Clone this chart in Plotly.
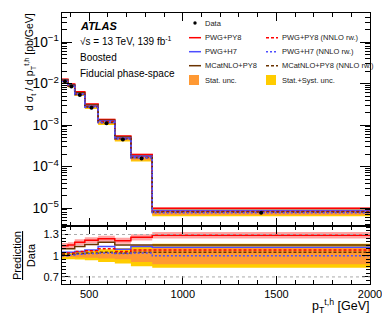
import plotly.graph_objects as go
import numpy as np

# bin edges of p_T^{t,h} [GeV] and measured cross section [pb/GeV]
edges = [355, 387, 423, 477, 548, 637, 723, 837, 2000]
data = [1.12e-2, 8.5e-3, 5.3e-3, 2.62e-3, 1.10e-3, 4.5e-4, 1.56e-4, 7.7e-6]
stat_unc = [0.02, 0.02, 0.025, 0.03, 0.04, 0.05, 0.09, 0.12]
tot_unc = [0.05, 0.05, 0.055, 0.065, 0.09, 0.11, 0.15, 0.17]

# prediction / data
r_pwg_py8 = [1.14, 1.15, 1.19, 1.22, 1.24, 1.21, 1.26, 1.29]
r_pwg_h7 = [1.05, 1.05, 1.06, 1.08, 1.13, 1.09, 1.13, 1.12]
r_mcnlo = [1.10, 1.10, 1.13, 1.16, 1.19, 1.15, 1.15, 1.15]
r_pwg_py8_nnlo = [1.04, 1.04, 1.06, 1.07, 1.10, 1.06, 1.08, 1.08]
r_pwg_h7_nnlo = [1.00, 1.01, 1.02, 1.03, 1.04, 1.03, 1.04, 1.00]
r_mcnlo_nnlo = [1.02, 1.02, 1.03, 1.04, 1.05, 1.04, 1.05, 1.05]
pwg_py8_unc = 0.035

RED, BLUE, BROWN = '#ff0000', '#4d4dff', '#6b3300'
ORANGE, YELLOW, PINK = '#ff9933', '#ffcc00', 'rgba(255,90,90,0.55)'
DASH, DOT = '3px,2px', '2px,2px'

# page has an 8px body margin, so the figure is drawn a bit smaller
OFF = 8
W, H = 390 - OFF, 323 - OFF
X0, X1, Y0, Y1 = 62, 370, 13, 284   # plot frame in page pixels
SPLIT = 226
L, T = X0 - OFF, Y0 - OFF
R, B = W - (X1 - OFF), H - (Y1 - OFF)


def px(x):
    return (x - X0) / (X1 - X0)


def py(y):
    return (Y1 - y) / (Y1 - Y0)


def step(v):
    return list(v) + [v[-1]]


data = np.array(data)
centers = [(a + b) / 2 for a, b in zip(edges[:-1], edges[1:])]

fig = go.Figure()


def band(lo, hi, color, xa, ya):
    fig.add_trace(go.Scatter(x=edges, y=step(lo), mode='lines', line=dict(width=0, shape='hv'),
                             showlegend=False, hoverinfo='skip', xaxis=xa, yaxis=ya))
    fig.add_trace(go.Scatter(x=edges, y=step(hi), mode='lines', line=dict(width=0, shape='hv'),
                             fill='tonexty', fillcolor=color, showlegend=False, hoverinfo='skip',
                             xaxis=xa, yaxis=ya))


def line(v, color, dash, xa, ya, width=1.5):
    fig.add_trace(go.Scatter(x=edges, y=step(v), mode='lines',
                             line=dict(color=color, dash=dash, width=width, shape='hv'),
                             showlegend=False, xaxis=xa, yaxis=ya))


tot = np.array(tot_unc)
stat = np.array(stat_unc)
preds = [(r_pwg_py8, RED, 'solid'), (r_mcnlo, BROWN, 'solid'), (r_pwg_h7, BLUE, 'solid'),
         (r_pwg_py8_nnlo, RED, DASH), (r_mcnlo_nnlo, BROWN, DASH), (r_pwg_h7_nnlo, BLUE, DOT)]

# main panel
band(data * (1 - tot), data * (1 + tot), YELLOW, 'x', 'y')
band(data * (1 - stat), data * (1 + stat), ORANGE, 'x', 'y')
rp = np.array(r_pwg_py8)
band(data * rp * (1 - pwg_py8_unc), data * rp * (1 + pwg_py8_unc), PINK, 'x', 'y')
for r, c, d in preds:
    line(data * np.array(r), c, d, 'x', 'y')
fig.add_trace(go.Scatter(x=centers, y=data, mode='markers', marker=dict(color='black', size=4),
                         showlegend=False, xaxis='x', yaxis='y'))

# ratio panel
one = np.ones(len(data))
band(one - tot, one + tot, YELLOW, 'x2', 'y2')
band(one - stat, one + stat, ORANGE, 'x2', 'y2')
band(rp * (1 - pwg_py8_unc), rp * (1 + pwg_py8_unc), PINK, 'x2', 'y2')
for r, c, d in preds:
    line(r, c, d, 'x2', 'y2')

FONT = 'Liberation Sans'
shapes = []
for yv in [0.7, 1.3]:
    shapes.append(dict(type='line', xref='x2 domain', yref='y2', x0=0, x1=1, y0=yv, y1=yv,
                       line=dict(color='#aaaaaa', width=1, dash='dot')))

# hand-made two column legend
leg_rows = [23, 37.7, 51.7, 65.7, 80]
col1 = [('Data', 'marker', 'black'), ('PWG+PY8', 'solid', RED), ('PWG+H7', 'solid', BLUE),
        ('MCatNLO+PY8', 'solid', BROWN), ('Stat. unc.', 'box', ORANGE)]
col2 = [('PWG+PY8 (NNLO rw.)', DASH, RED), ('PWG+H7 (NNLO rw.)', DOT, BLUE),
        ('MCatNLO+PY8 (NNLO rw.)', DASH, BROWN), ('Stat.+Syst. unc.', 'box', YELLOW)]
annotations = []


def legend_entry(x0, x1, xt, yrow, label, kind, color):
    if kind == 'marker':
        xc = (x0 + x1) / 2
        shapes.append(dict(type='circle', xref='paper', yref='paper',
                           x0=px(xc - 1.7), x1=px(xc + 1.7),
                           y0=py(yrow + 1.7), y1=py(yrow - 1.7), fillcolor='black', line=dict(width=0)))
    elif kind == 'box':
        shapes.append(dict(type='rect', xref='paper', yref='paper', x0=px(x0), x1=px(x1 - 2),
                           y0=py(yrow + 5), y1=py(yrow - 5), fillcolor=color, line=dict(width=0)))
    else:
        shapes.append(dict(type='line', xref='paper', yref='paper', x0=px(x0), x1=px(x1),
                           y0=py(yrow), y1=py(yrow), line=dict(color=color, width=1.5, dash=kind)))
    annotations.append(dict(text=label, xref='paper', yref='paper', x=px(xt), y=py(yrow),
                            xanchor='left', yanchor='middle', showarrow=False,
                            font=dict(size=7.5, color='#222222', family=FONT)))


for yrow, (lab, kind, col) in zip(leg_rows, col1):
    legend_entry(189, 201, 203, yrow, lab, kind, col)
for yrow, (lab, kind, col) in zip(leg_rows[1:], col2):
    legend_entry(266, 278, 280, yrow, lab, kind, col)

# labels
labels = [
    dict(text='<b><i>ATLAS</i></b>', x=px(78), y=py(26), font=dict(size=11)),
    dict(text='√s = 13 TeV, 139 fb<sup>-1</sup>', x=px(78), y=py(41), font=dict(size=10)),
    dict(text='Boosted', x=px(78), y=py(58), font=dict(size=10)),
    dict(text='Fiducial phase-space', x=px(78), y=py(73), font=dict(size=10)),
]
for a in labels:
    a.update(xref='paper', yref='paper', xanchor='left', yanchor='middle', showarrow=False)
    a['font'].update(family=FONT, color='black')

titles = [
    dict(text='d σ<sub>t</sub> / d p<sub>T</sub><sup>t,h</sup> [pb/GeV]', textangle=-90,
         x=px(30), y=py(62), font=dict(size=10.5)),
    dict(text='<u>Prediction</u><br>Data', textangle=-90, x=px(24), y=py(256), font=dict(size=11)),
]
for a in titles:
    a.update(xref='paper', yref='paper', xanchor='center', yanchor='middle', showarrow=False)
    a['font'].update(family=FONT, color='black')
titles.append(dict(text='p<sub>T</sub><sup>t,h</sup> [GeV]', x=px(371), y=py(306),
                   xanchor='right', yanchor='middle', xref='paper', yref='paper', showarrow=False,
                   font=dict(size=12.5, family=FONT, color='black')))
annotations += labels + titles

axis_common = dict(showline=True, linecolor='black', linewidth=1, mirror='ticks', ticks='inside',
                   tickcolor='black', showgrid=False, zeroline=False,
                   tickfont=dict(size=11, family=FONT, color='black'))

split = py(SPLIT)
fig.update_layout(
    width=W, height=H,
    margin=dict(l=L, r=R, t=T, b=B),
    paper_bgcolor='white', plot_bgcolor='white',
    font=dict(family=FONT, color='black'),
    showlegend=False,
    xaxis=dict(domain=[0, 1], anchor='y', range=[355, 2000], showticklabels=False,
               dtick=500, tick0=0, ticklen=8,
               minor=dict(dtick=100, ticks='inside', ticklen=4, tickcolor='black'), **axis_common),
    xaxis2=dict(domain=[0, 1], anchor='y2', range=[355, 2000], matches='x',
                dtick=500, tick0=0, ticklen=8,
                minor=dict(dtick=100, ticks='inside', ticklen=4, tickcolor='black'), **axis_common),
    yaxis=dict(domain=[split, 1], anchor='x', type='log', range=[np.log10(3.7e-6), np.log10(0.5)],
               dtick=1, exponentformat='power', ticklen=10,
               minor=dict(dtick='D1', ticks='inside', ticklen=5, tickcolor='black'), **axis_common),
    yaxis2=dict(domain=[0, split], anchor='x2', range=[0.6, 1.42],
                tickvals=[0.7, 1, 1.3], ticktext=['0.7', '1', '1.3'], ticklen=8,
                minor=dict(dtick=0.05, ticks='inside', ticklen=4, tickcolor='black'), **axis_common),
    shapes=shapes,
    annotations=annotations,
)

fig.write_html("out.html")
